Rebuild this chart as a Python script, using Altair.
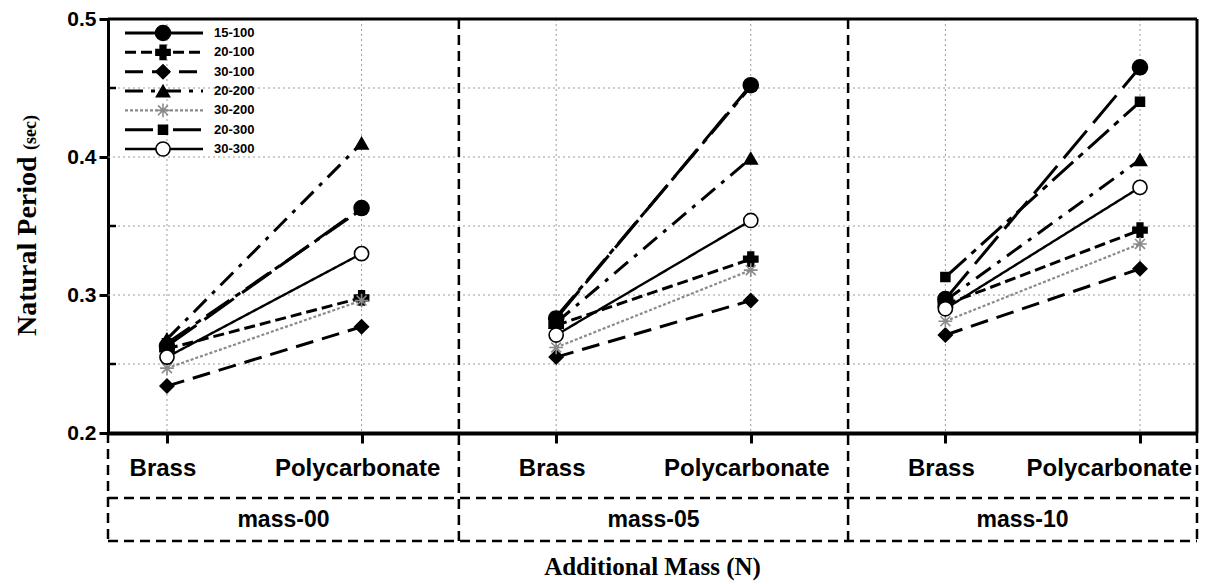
import altair as alt
import pandas as pd

# ---- data -------------------------------------------------------------
series = ["15-100", "20-100", "30-100", "20-200", "30-200", "20-300", "30-300"]
materials = ["Brass", "Polycarbonate"]
groups = ["mass-00", "mass-05", "mass-10"]

# natural period (sec), ordered: mass-00 Brass, mass-00 PC, mass-05 Brass, mass-05 PC, mass-10 Brass, mass-10 PC
p_15_100 = [0.263, 0.363, 0.283, 0.452, 0.297, 0.465]
p_20_100 = [0.261, 0.298, 0.278, 0.326, 0.293, 0.347]
p_30_100 = [0.234, 0.277, 0.255, 0.296, 0.271, 0.319]
p_20_200 = [0.268, 0.410, 0.280, 0.399, 0.296, 0.398]
p_30_200 = [0.247, 0.296, 0.262, 0.318, 0.281, 0.337]
p_20_300 = [0.265, 0.362, 0.284, 0.451, 0.313, 0.440]
p_30_300 = [0.255, 0.330, 0.271, 0.354, 0.290, 0.378]
periods = [p_15_100, p_20_100, p_30_100, p_20_200, p_30_200, p_20_300, p_30_300]

y_ticks = [0.2, 0.3, 0.4, 0.5]
y_grid = [0.25, 0.3, 0.35, 0.4, 0.45]
y_minor = [0.25, 0.35, 0.45]

# ---- tables -------------------------------------------------------------
rows = []
for s, vals in zip(series, periods):
    for gi, g in enumerate(groups):
        for mi, m in enumerate(materials):
            rows.append({"series": s, "group": g, "material": m,
                         "pos": gi * 2 + mi + 1, "period": vals[gi * 2 + mi]})
df = pd.DataFrame(rows)

cats = pd.DataFrame([{"pos": gi * 2 + mi + 1, "material": m}
                     for gi in range(len(groups)) for mi, m in enumerate(materials)])
last_pos = int(cats["pos"].max())

X_LO, X_HI = 0.697, 6.293
edges = [X_LO] + [gi * 2 + 2.5 for gi in range(len(groups) - 1)] + [X_HI]
inner_edges = pd.DataFrame({"pos": edges[1:-1]})
group_df = pd.DataFrame({"group": groups,
                         "pos": [(edges[i] + edges[i + 1]) / 2 for i in range(len(groups))]})
one = pd.DataFrame({"k": [0]})

# ---- styles -------------------------------------------------------------
W, H, BH = 1089, 414, 108
BLACK, GRAY = "#000000", "#8a8a8a"
BOX_DASH = [10, 6]
star = "M-1,0L1,0M0,-1L0,1M-0.72,-0.72L0.72,0.72M-0.72,0.72L0.72,-0.72"

dash_scale = alt.Scale(domain=series, range=[[36, 10], [11, 5], [18, 9], [18, 8, 4, 8],
                                             [3, 2], [28, 7, 6, 7], [1, 0]])
color_scale = alt.Scale(domain=series, range=[BLACK, BLACK, BLACK, BLACK, GRAY, BLACK, BLACK])
width_scale = alt.Scale(type="ordinal", domain=series, range=[3, 3, 3, 3, 2.2, 3, 2.4])
shape_scale = alt.Scale(domain=series, range=["circle", "cross", "diamond", "triangle-up",
                                              star, "square", "circle"])
fill_scale = alt.Scale(domain=series, range=[BLACK, BLACK, BLACK, BLACK, "transparent", BLACK, "#ffffff"])
size_scale = alt.Scale(type="ordinal", domain=series, range=[225, 200, 190, 170, 190, 80, 200])

xs = alt.Scale(domain=[X_LO, X_HI], nice=False, zero=False)
ys = alt.Scale(domain=[0.2, 0.5], nice=False, zero=False)

x_axis = alt.Axis(values=list(range(1, 7)), labels=False, title=None, grid=False,
                  tickSize=10, tickWidth=3, tickColor=BLACK, domainColor=BLACK, domainWidth=4)
y_axis = alt.Axis(values=y_ticks, format=".1f", title=None, grid=False,
                  labelFont="Liberation Sans", labelFontWeight="bold", labelFontSize=21,
                  labelColor=BLACK, labelPadding=3, tickSize=9, tickWidth=3, tickColor=BLACK,
                  domainColor=BLACK, domainWidth=3)

X = alt.X("pos:Q", scale=xs, axis=x_axis)

# ---- plot frame and grid ------------------------------------------------
hgrid = alt.Chart(pd.DataFrame({"y": y_grid})).mark_rule(
    color="#9a9a9a", strokeDash=[2, 3], strokeWidth=1
).encode(y=alt.Y("y:Q", scale=ys, axis=y_axis), x=alt.value(0), x2=alt.value(W))

vgrid = alt.Chart(cats).mark_rule(
    color="#9a9a9a", strokeDash=[2, 3], strokeWidth=1
).encode(x=X, y=alt.value(0), y2=alt.value(H))

minor = alt.Chart(pd.DataFrame({"y": y_minor})).mark_rule(
    color=BLACK, strokeWidth=2.5
).encode(y=alt.Y("y:Q", scale=ys, axis=y_axis), x=alt.value(0), x2=alt.value(8))

top_border = alt.Chart(one).mark_rule(color=BLACK, strokeWidth=3).encode(
    x=alt.value(0), x2=alt.value(W), y=alt.value(0))
right_border = alt.Chart(one).mark_rule(color=BLACK, strokeWidth=3).encode(
    x=alt.value(W), y=alt.value(0), y2=alt.value(H))

# dashed panel dividers run through the plot and the category band
dividers = alt.Chart(inner_edges).mark_rule(
    color=BLACK, strokeDash=BOX_DASH, strokeWidth=2.5
).encode(x=X, y=alt.value(0), y2=alt.value(H + BH))

# ---- series --------------------------------------------------------------
lines = alt.Chart(df).mark_line().encode(
    x=X,
    y=alt.Y("period:Q", scale=ys, axis=y_axis),
    detail="group:N",
    strokeDash=alt.StrokeDash("series:N", scale=dash_scale, legend=None),
    color=alt.Color("series:N", scale=color_scale, legend=None),
    strokeWidth=alt.StrokeWidth("series:N", scale=width_scale, legend=None),
)

points = alt.Chart(df).mark_point(filled=True, opacity=1, strokeWidth=1.6).encode(
    x=X,
    y=alt.Y("period:Q", scale=ys, axis=y_axis),
    shape=alt.Shape("series:N", scale=shape_scale, legend=None),
    fill=alt.Fill("series:N", scale=fill_scale, legend=None),
    stroke=alt.Stroke("series:N", scale=color_scale, legend=None),
    size=alt.Size("series:N", scale=size_scale, legend=None),
)

# ---- axis titles ----------------------------------------------------------
title_main = alt.Chart(one).mark_text(
    text="Natural Period", angle=270, align="left", baseline="alphabetic",
    font="Liberation Serif", fontWeight="bold", fontSize=28, color=BLACK
).encode(x=alt.value(-72), y=alt.value(317))
title_unit = alt.Chart(one).mark_text(
    text="(sec)", angle=270, align="left", baseline="alphabetic",
    font="Liberation Serif", fontWeight="bold", fontSize=18, color=BLACK
).encode(x=alt.value(-72), y=alt.value(131))
title_x = alt.Chart(one).mark_text(
    text="Additional Mass (N)", align="center", baseline="middle",
    font="Liberation Serif", fontWeight="bold", fontSize=25, color=BLACK
).encode(x=alt.value(W / 2), y=alt.value(H + 134))

# ---- category band below the axis ----------------------------------------
box_v = alt.Chart(pd.DataFrame({"pos": [X_LO, X_HI]})).mark_rule(
    color=BLACK, strokeDash=BOX_DASH, strokeWidth=2.5
).encode(x=X, y=alt.value(H), y2=alt.value(H + BH))
box_mid = alt.Chart(one).mark_rule(color=BLACK, strokeDash=BOX_DASH, strokeWidth=2.5).encode(
    x=alt.value(0), x2=alt.value(W), y=alt.value(H + 65))
box_bot = alt.Chart(one).mark_rule(color=BLACK, strokeDash=BOX_DASH, strokeWidth=2.5).encode(
    x=alt.value(0), x2=alt.value(W), y=alt.value(H + BH))

cat_style = dict(font="Liberation Sans", fontWeight="bold", fontSize=24, color=BLACK,
                 baseline="middle")
cat_text = alt.Chart(cats).mark_text(dx=-4, **cat_style).encode(
    x=X, y=alt.value(H + 36), text="material:N"
).transform_filter(alt.datum.pos < last_pos)
# the last label is kept inside the band's right edge
cat_last = alt.Chart(cats).mark_text(align="right", dx=-5, **cat_style).encode(
    x=alt.value(W), y=alt.value(H + 36), text="material:N"
).transform_filter(alt.datum.pos == last_pos)
grp_text = alt.Chart(group_df).mark_text(
    font="Liberation Sans", fontWeight="bold", fontSize=23, color=BLACK, baseline="middle"
).encode(x=X, y=alt.value(H + 87), text="group:N")

data_layer = alt.layer(hgrid, vgrid, minor, dividers, lines, points,
                       top_border, right_border, box_v, box_mid, box_bot,
                       cat_text, cat_last, grp_text, title_main, title_unit, title_x)

# ---- legend (own vertical scale) ---------------------------------------
leg_df = pd.DataFrame({"series": series})
ly = alt.Y("series:N", scale=alt.Scale(type="point", domain=series, range=[14, 130], padding=0),
           axis=None)
leg_lines = alt.Chart(leg_df).mark_rule().encode(
    y=ly, x=alt.value(17), x2=alt.value(95),
    strokeDash=alt.StrokeDash("series:N", scale=dash_scale, legend=None),
    color=alt.Color("series:N", scale=color_scale, legend=None),
    strokeWidth=alt.StrokeWidth("series:N", scale=width_scale, legend=None),
)
leg_points = alt.Chart(leg_df).mark_point(filled=True, opacity=1, strokeWidth=1.6).encode(
    y=ly, x=alt.value(55),
    shape=alt.Shape("series:N", scale=shape_scale, legend=None),
    fill=alt.Fill("series:N", scale=fill_scale, legend=None),
    stroke=alt.Stroke("series:N", scale=color_scale, legend=None),
    size=alt.Size("series:N", scale=size_scale, legend=None),
)
leg_text = alt.Chart(leg_df).mark_text(
    align="left", baseline="middle", font="Liberation Sans", fontWeight="bold",
    fontSize=13, color=BLACK
).encode(y=ly, x=alt.value(106), text="series:N")
legend_layer = alt.layer(leg_lines, leg_points, leg_text)

chart = alt.layer(data_layer, legend_layer).resolve_scale(y="independent").properties(
    width=W, height=H,
    autosize=alt.AutoSizeParams(type="none"),
    padding={"left": 108, "top": 19, "right": 9, "bottom": 151},
).configure_view(strokeOpacity=0)

chart.save("out.html", embed_options={"renderer": "svg", "actions": False})
